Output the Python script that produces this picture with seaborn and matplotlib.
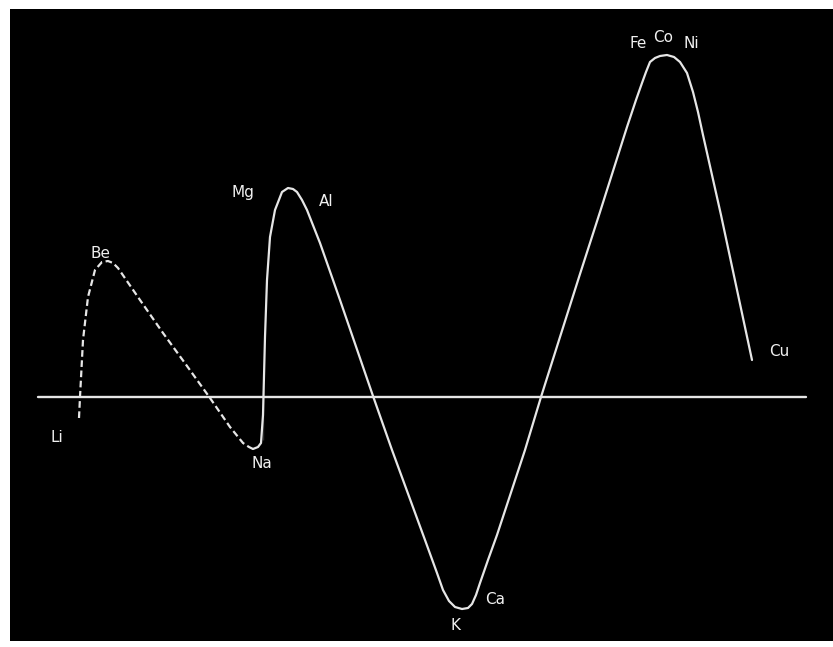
import matplotlib
matplotlib.use("Agg")
import matplotlib.pyplot as plt
import seaborn as sns

# curve (x along the series, y above/below the zero line)
dashed_x = [79, 80, 83, 88, 95, 102, 108, 113, 118, 140, 163, 187, 210, 230, 243, 249, 253]
dashed_y = [-21, 0, 57, 100, 127, 135, 136, 134, 129, 97, 64, 31, -1, -30, -46, -50, -52]

solid_x = [253, 258, 261, 263, 263, 265, 267, 270, 275, 282, 288, 293, 297, 302, 307,
           320, 333, 340, 373, 392, 425, 437, 443, 449, 455, 462, 468, 472, 476, 480,
           488, 497, 525, 541, 560, 580, 600, 627, 636, 642, 646, 650, 655, 660, 667,
           674, 680, 687, 693, 698, 703, 721, 752]
solid_y = [-52, -50, -46, -43, 7, 60, 117, 160, 187, 205, 209, 208, 205, 197, 187,
           154, 117, 97, 1, -53, -143, -176, -193, -204, -210, -212, -211, -207, -198, -186,
           -163, -138, -53, 0, 60, 123, 185, 270, 297, 314, 325, 335, 339, 341, 342,
           340, 335, 324, 305, 285, 262, 182, 37]

axis_x = [38, 806]
axis_y = [0, 0]

labels = ["Li", "Be", "Na", "Mg", "Al", "K", "Ca", "Fe", "Co", "Ni", "Cu"]
label_x = [57, 101, 262, 243, 326, 456, 495, 638, 663, 691, 779]
label_y = [-40, 144, -66, 205, 195, -228, -202, 353, 359, 353, 46]

sns.set_theme(style="dark")
plt.rcParams['font.family'] = ['DejaVu Sans']

fig = plt.figure(figsize=(8.33, 6.47), dpi=100, facecolor="white")
ax = fig.add_axes([10 / 833, 6 / 647, 823 / 833, 632 / 647])
ax.set_facecolor("black")

line_color = "#e6e6e6"
sns.lineplot(x=axis_x, y=axis_y, sort=False, color=line_color, linewidth=1.7, ax=ax)
sns.lineplot(x=dashed_x, y=dashed_y, sort=False, color=line_color, linewidth=1.6,
             linestyle=(0, (3, 1.6)), ax=ax)
sns.lineplot(x=solid_x, y=solid_y, sort=False, color=line_color, linewidth=1.6, ax=ax)

for lab, lx, ly in zip(labels, label_x, label_y):
    ax.text(lx, ly, lab, color="#f0f0f0", fontsize=11, ha="center", va="center")

ax.set_xlim(10, 833)
ax.set_ylim(-244, 388)
ax.set_xticks([])
ax.set_yticks([])
ax.set_xlabel("")
ax.set_ylabel("")
for s in ax.spines.values():
    s.set_visible(False)

fig.savefig("out.png", dpi=100, facecolor="white")
